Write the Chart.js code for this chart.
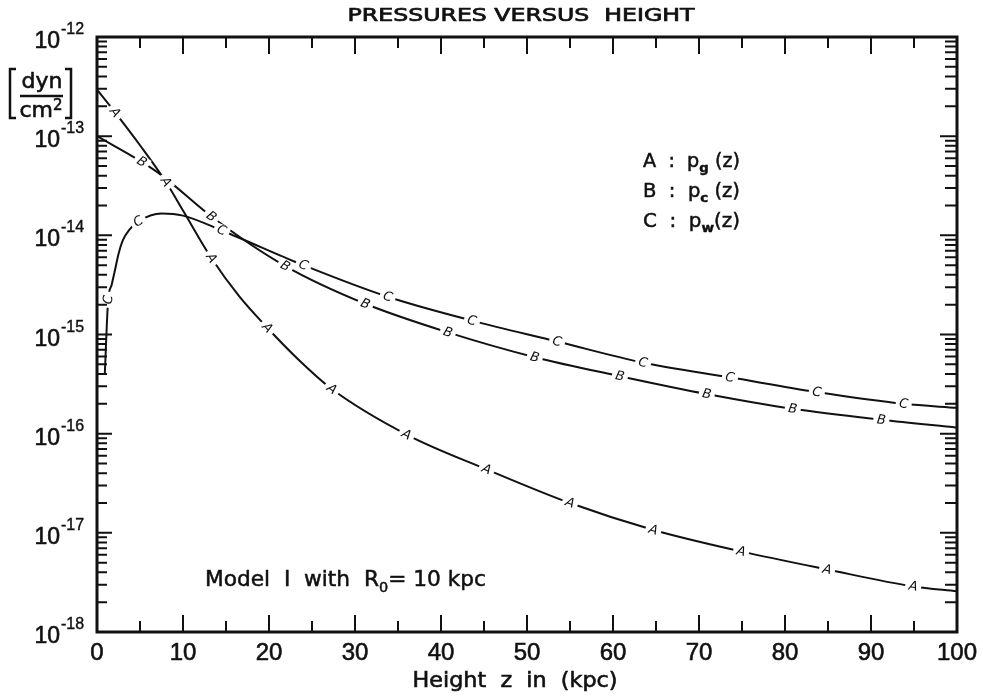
<!DOCTYPE html>
<html>
<head>
<meta charset="utf-8">
<script src="https://cdn.jsdelivr.net/npm/chart.js@4.4.0/dist/chart.umd.min.js"></script>
<style>
  html, body { margin: 0; padding: 0; background: #fff; }
</style>
</head>
<body>
<canvas id="myChart" width="983" height="697"></canvas>
<script>
// heights z (kpc) and pressures (dyn/cm^2)
const zA = [0, 2.1, 5, 8.0, 10, 13.3, 16.5, 19.8, 23.5, 27.3, 36, 45.3, 55, 64.7, 74.9, 84.9, 94.9, 100];
const pA = [2.95e-13, 1.74e-13, 8.1e-14, 3.47e-14, 1.78e-14, 5.9e-15, 2.45e-15, 1.17e-15, 5.5e-16, 2.82e-16, 9.8e-17, 4.37e-17, 2.0e-17, 1.07e-17, 6.5e-18, 4.27e-18, 2.88e-18, 2.57e-18];
const markA = [2.1, 8.0, 13.3, 19.8, 27.3, 36, 45.3, 55, 64.7, 74.9, 84.9, 94.9];

const zB = [0, 5.2, 7.6, 13.3, 21.9, 31.2, 40.8, 50.9, 60.8, 70.9, 80.9, 91.2, 100];
const pB = [1.0e-13, 5.5e-14, 3.98e-14, 1.55e-14, 4.9e-15, 2.04e-15, 1.05e-15, 5.9e-16, 3.8e-16, 2.51e-16, 1.78e-16, 1.38e-16, 1.15e-16];
const markB = [5.2, 13.3, 21.9, 31.2, 40.8, 50.9, 60.8, 70.9, 80.9, 91.2];

const zC = [0.9, 1.3, 1.7, 2.1, 2.5, 3.0, 3.8, 4.8, 7.5, 10, 14.5, 24, 33.8, 43.6, 53.5, 63.5, 73.6, 83.7, 93.8, 100];
const pC = [3.9e-16, 2.24e-15, 3.16e-15, 4.5e-15, 6.5e-15, 8.9e-15, 1.15e-14, 1.38e-14, 1.66e-14, 1.58e-14, 1.12e-14, 5.0e-15, 2.4e-15, 1.38e-15, 8.5e-16, 5.2e-16, 3.7e-16, 2.63e-16, 2.0e-16, 1.82e-16];
const markC = [1.3, 4.8, 14.5, 24, 33.8, 43.6, 53.5, 63.5, 73.6, 83.7, 93.8];

const xTicks = ['0', '10', '20', '30', '40', '50', '60', '70', '80', '90', '100'];
const yExps = ['-18', '-17', '-16', '-15', '-14', '-13', '-12'];

const INK = '#111';
const SANS = '"DejaVu Sans", sans-serif';
const NUM = '"Liberation Sans", Arial, sans-serif';

// draws a row of text pieces [text, size, dy, weight], optionally stretched to a width
function rich(ctx, parts, x, y, opt) {
  opt = opt || {};
  const fam = opt.family || SANS;
  let w = 0;
  parts.forEach(p => {
    ctx.font = (p[3] || 'normal') + ' ' + p[1] + 'px ' + fam;
    w += ctx.measureText(p[0]).width;
  });
  const s = opt.width ? opt.width / w : 1;
  let x0 = x;
  if (opt.align === 'center') x0 = x - (w * s) / 2;
  if (opt.align === 'right') x0 = x - w * s;
  ctx.save();
  ctx.translate(x0, y);
  ctx.scale(s, 1);
  ctx.fillStyle = INK;
  ctx.strokeStyle = INK;
  ctx.lineWidth = opt.heavy || 0;
  ctx.textAlign = 'left';
  ctx.textBaseline = 'alphabetic';
  let cx = 0;
  parts.forEach(p => {
    ctx.font = (p[3] || 'normal') + ' ' + p[1] + 'px ' + fam;
    ctx.fillText(p[0], cx, p[2] || 0);
    if (opt.heavy) ctx.strokeText(p[0], cx, p[2] || 0);
    cx += ctx.measureText(p[0]).width;
  });
  ctx.restore();
}

const curveLetters = {
  id: 'curveLetters',
  afterDatasetsDraw(chart) {
    const ctx = chart.ctx;
    chart.data.datasets.forEach((ds, d) => {
      const pts = chart.getDatasetMeta(d).data;
      ds.marks.forEach(z => {
        const i = ds.data.findIndex(p => p.x === z);
        if (i < 0) return;
        const p = pts[i];
        let ang = 0;
        if (p.cp1x !== undefined && p.cp2x !== undefined) {
          ang = Math.atan2(p.cp2y - p.cp1y, p.cp2x - p.cp1x);
        }
        ctx.save();
        ctx.translate(p.x, p.y);
        ctx.rotate(ang);
        ctx.fillStyle = '#fff';
        ctx.fillRect(-8, -6, 16, 12);
        ctx.fillStyle = INK;
        ctx.font = 'italic 13px ' + SANS;
        ctx.textAlign = 'center';
        ctx.textBaseline = 'middle';
        ctx.fillText(ds.label, 0, 0.5);
        ctx.restore();
      });
    });
  }
};

const frame = {
  id: 'frame',
  afterDraw(chart) {
    const { ctx, chartArea: a } = chart;
    const x = chart.scales.x, y = chart.scales.y;
    ctx.save();
    ctx.strokeStyle = INK;

    // tick marks, all pointing into the plot
    ctx.lineWidth = 2;
    ctx.beginPath();
    for (let v = 0; v <= 100; v += 5) {
      const px = x.getPixelForValue(v);
      const len = v % 10 === 0 ? 17 : 11;
      ctx.moveTo(px, a.bottom); ctx.lineTo(px, a.bottom - len);
      ctx.moveTo(px, a.top); ctx.lineTo(px, a.top + len);
    }
    yExps.forEach(e => {
      const ex = Number(e);
      for (let m = 1; m < 10; m++) {
        if (ex === -12 && m > 1) break;
        const py = y.getPixelForValue(m * Math.pow(10, ex));
        const len = m === 1 ? 15 : 10;
        ctx.moveTo(a.left, py); ctx.lineTo(a.left + len, py);
        ctx.moveTo(a.right, py); ctx.lineTo(a.right - len - 2, py);
      }
    });
    ctx.stroke();

    ctx.lineWidth = 3;
    ctx.strokeRect(a.left, a.top, a.right - a.left, a.bottom - a.top);

    // tick labels
    xTicks.forEach(t => {
      rich(ctx, [[t, 24]], x.getPixelForValue(Number(t)), 660, { align: 'center', family: NUM, heavy: 0.6 });
    });
    yExps.forEach(e => {
      const py = y.getPixelForValue(Math.pow(10, Number(e)));
      rich(ctx, [['10', 23]], 60, py + 11, { align: 'right', family: NUM, heavy: 0.6 });
      rich(ctx, [[e, 16]], 61, py - 3, { family: NUM, heavy: 0.4 });
    });

    // titles
    rich(ctx, [['PRESSURES VERSUS  HEIGHT', 17]], 521, 21, { align: 'center', width: 347, heavy: 0.7 });
    rich(ctx, [['Height  z  in  (kpc)', 21]], 515, 687, { align: 'center', width: 205, heavy: 0.6 });

    // unit [dyn / cm^2]
    ctx.lineWidth = 2.5;
    ctx.beginPath();
    ctx.moveTo(16, 69); ctx.lineTo(10, 69); ctx.lineTo(10, 118); ctx.lineTo(16, 118);
    ctx.moveTo(65, 69); ctx.lineTo(71, 69); ctx.lineTo(71, 118); ctx.lineTo(65, 118);
    ctx.moveTo(20, 96); ctx.lineTo(63, 96);
    ctx.stroke();
    rich(ctx, [['dyn', 22]], 42, 88, { align: 'center', heavy: 0.6 });
    rich(ctx, [['cm', 22], ['2', 15, -7]], 41, 117, { align: 'center', heavy: 0.6 });

    // key
    const keyW = 97;
    rich(ctx, [['A', 19], ['  :  ', 19], ['p', 19], ['g', 13, 5, 'bold'], [' (z)', 19]], 643, 167, { width: keyW, heavy: 0.5 });
    rich(ctx, [['B', 19], ['  :  ', 19], ['p', 19], ['c', 13, 5, 'bold'], [' (z)', 19]], 643, 197, { width: keyW, heavy: 0.5 });
    rich(ctx, [['C', 19], ['  :  ', 19], ['p', 19], ['w', 13, 5, 'bold'], ['(z)', 19]], 643, 227, { width: keyW, heavy: 0.5 });

    // model note
    rich(ctx, [['Model  I  with  R', 21], ['0', 14, 6], ['= 10 kpc', 21]], 205, 586, { width: 281, heavy: 0.5 });

    ctx.restore();
  }
};

function series(name, zs, ps, marks) {
  return {
    label: name,
    data: zs.map((z, i) => ({ x: z, y: ps[i] })),
    marks: marks,
    borderColor: INK,
    borderWidth: 2,
    pointRadius: 0,
    fill: false,
    cubicInterpolationMode: 'monotone'
  };
}

const ctx = document.getElementById('myChart').getContext('2d');
const myChart = new Chart(ctx, {
  type: 'line',
  data: {
    datasets: [
      series('A', zA, pA, markA),
      series('B', zB, pB, markB),
      series('C', zC, pC, markC)
    ]
  },
  options: {
    responsive: false,
    animation: false,
    layout: { padding: { left: 97, right: 26, top: 37, bottom: 65 } },
    scales: {
      x: { type: 'linear', min: 0, max: 100, display: false },
      y: { type: 'logarithmic', min: 1e-18, max: 1e-12, display: false }
    },
    plugins: {
      legend: { display: false },
      tooltip: { enabled: false },
      title: { display: false }
    }
  },
  plugins: [curveLetters, frame]
});
</script>
</body>
</html>
